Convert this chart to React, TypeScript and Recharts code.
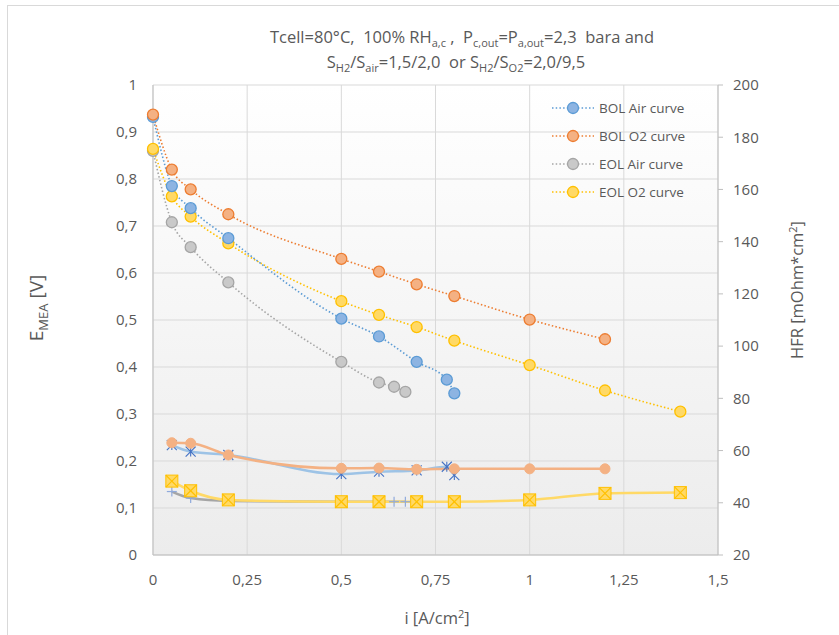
import React from "react";
import {
  ComposedChart,
  Line,
  XAxis,
  YAxis,
  CartesianGrid,
} from "recharts";

// Current density [A/cm2] for each test
const bolAirI = [0, 0.05, 0.1, 0.2, 0.5, 0.6, 0.7, 0.78, 0.8];
const bolO2I = [0, 0.05, 0.1, 0.2, 0.5, 0.6, 0.7, 0.8, 1.0, 1.2];
const eolAirI = [0, 0.05, 0.1, 0.2, 0.5, 0.6, 0.64, 0.67];
const eolO2I = [0, 0.05, 0.1, 0.2, 0.5, 0.6, 0.7, 0.8, 1.0, 1.2, 1.4];

// Cell voltage E_MEA [V]
const bolAirE = [0.932, 0.785, 0.738, 0.674, 0.503, 0.465, 0.411, 0.373, 0.344];
const bolO2E = [0.937, 0.82, 0.778, 0.725, 0.63, 0.603, 0.576, 0.551, 0.501, 0.459];
const eolAirE = [0.86, 0.708, 0.655, 0.58, 0.411, 0.367, 0.358, 0.347];
const eolO2E = [0.864, 0.763, 0.72, 0.663, 0.54, 0.511, 0.485, 0.456, 0.404, 0.35, 0.305];

// High frequency resistance [mOhm*cm2]
const bolAirHfrI = [0.05, 0.1, 0.2, 0.5, 0.6, 0.7, 0.78, 0.8];
const bolAirHfr = [62.1, 59.6, 58.3, 51.0, 51.9, 52.4, 53.8, 50.6];
const bolO2HfrI = [0.05, 0.1, 0.2, 0.5, 0.6, 0.7, 0.8, 1.0, 1.2];
const bolO2Hfr = [63.0, 62.8, 58.3, 53.2, 53.3, 52.8, 53.0, 53.0, 53.0];
const eolAirHfrI = [0.05, 0.1, 0.2, 0.5, 0.6, 0.64, 0.67];
const eolAirHfr = [44.3, 41.8, 40.7, 40.4, 40.4, 40.4, 40.4];
const eolO2HfrI = [0.05, 0.1, 0.2, 0.5, 0.6, 0.7, 0.8, 1.0, 1.2, 1.4];
const eolO2Hfr = [48.3, 44.6, 41.1, 40.4, 40.4, 40.4, 40.4, 41.1, 43.6, 43.9];

// Axis ticks
const xTicks = [0, 0.25, 0.5, 0.75, 1, 1.25, 1.5];
const eTicks = [0, 0.1, 0.2, 0.3, 0.4, 0.5, 0.6, 0.7, 0.8, 0.9, 1];
const hfrTicks = [20, 40, 60, 80, 100, 120, 140, 160, 180, 200];

const legendNames = ["BOL Air curve", "BOL O2 curve", "EOL Air curve", "EOL O2 curve"];

// Title lines: [text, subscript?]
const titleLine1: [string, boolean][] = [
  ["Tcell=80°C,  100% RH", false],
  ["a,c", true],
  [" ,  P", false],
  ["c,out", true],
  ["=P", false],
  ["a,out", true],
  ["=2,3  bara and", false],
];
const titleLine2: [string, boolean][] = [
  ["S", false],
  ["H2", true],
  ["/S", false],
  ["air", true],
  ["=1,5/2,0  or S", false],
  ["H2", true],
  ["/S", false],
  ["O2", true],
  ["=2,0/9,5", false],
];

const zip = (xs: number[], ys: number[]) => xs.map((x, k) => ({ i: x, v: ys[k] }));

const FONT = "'Open Sans', 'Noto Sans', sans-serif";
const TEXT = "#595959";
const GRID = "#d9d9d9";

const comma = (v: number) => String(Number(v.toFixed(2))).replace(".", ",");

const palette = [
  { stroke: "#5b9bd5", fill: "#8db4e2" },
  { stroke: "#ed7d31", fill: "#f4b183" },
  { stroke: "#a5a5a5", fill: "#c9c9c9" },
  { stroke: "#ffc000", fill: "#ffd966" },
];

const circleDot = (c: { stroke: string; fill: string }, r = 5.5) => (p: any) => (
  <circle key={p.index} cx={p.cx} cy={p.cy} r={r} fill={c.fill} stroke={c.stroke} strokeWidth={1.3} />
);

const orangeHfrDot = (p: any) => (
  <circle key={p.index} cx={p.cx} cy={p.cy} r={5} fill="#f4b183" stroke="#f4b183" />
);

const asteriskDot = (p: any) => {
  const s = 5;
  return (
    <g key={p.index} stroke="#4472c4" strokeWidth={1.1}>
      <line x1={p.cx} y1={p.cy - s} x2={p.cx} y2={p.cy + s} />
      <line x1={p.cx - s} y1={p.cy - s} x2={p.cx + s} y2={p.cy + s} />
      <line x1={p.cx - s} y1={p.cy + s} x2={p.cx + s} y2={p.cy - s} />
    </g>
  );
};

const plusDot = (p: any) => {
  const s = 5;
  return (
    <g key={p.index} stroke="#8faadc" strokeWidth={1.2}>
      <line x1={p.cx} y1={p.cy - s} x2={p.cx} y2={p.cy + s} />
      <line x1={p.cx - s} y1={p.cy} x2={p.cx + s} y2={p.cy} />
    </g>
  );
};

const squareXDot = (p: any) => {
  const s = 6;
  return (
    <g key={p.index}>
      <rect x={p.cx - s} y={p.cy - s} width={2 * s} height={2 * s} fill="#ffd966" stroke="#ffc000" strokeWidth={1} />
      <line x1={p.cx - s} y1={p.cy - s} x2={p.cx + s} y2={p.cy + s} stroke="#ffc000" strokeWidth={1.2} />
      <line x1={p.cx - s} y1={p.cy + s} x2={p.cx + s} y2={p.cy - s} stroke="#ffc000" strokeWidth={1.2} />
    </g>
  );
};

// Renders a run of normal / subscript pieces as tspans
const richSpans = (parts: [string, boolean][], shift: number, subSize: number) => {
  let prevSub = false;
  return parts.map(([t, sub], k) => {
    let dy = 0;
    if (sub && !prevSub) dy = shift;
    if (!sub && prevSub) dy = -shift;
    prevSub = sub;
    return (
      <tspan key={k} dy={dy} fontSize={sub ? subSize : undefined}>
        {t}
      </tspan>
    );
  });
};

const titleLabel = () => (
  <g fontFamily={FONT} fill={TEXT} fontSize={16.5}>
    <text x={462} y={43} textAnchor="middle" xmlSpace="preserve" style={{ whiteSpace: "pre" }}>
      {richSpans(titleLine1, 4, 11)}
    </text>
    <text x={456} y={68} textAnchor="middle" xmlSpace="preserve" style={{ whiteSpace: "pre" }}>
      {richSpans(titleLine2, 4, 11)}
    </text>
  </g>
);

const leftLabel = () => (
  <g>
    {titleLabel()}
    <text
      transform="translate(43, 308) rotate(-90)"
      textAnchor="middle"
      fontFamily={FONT}
      fontSize={19}
      fill={TEXT}
      xmlSpace="preserve"
      style={{ whiteSpace: "pre" }}
    >
      {richSpans([["E", false], ["MEA", true], [" [V]", false]], 5, 13)}
    </text>
  </g>
);

const rightLabel = () => (
  <text
    transform="translate(803, 290) rotate(-90)"
    textAnchor="middle"
    fontFamily={FONT}
    fontSize={16.5}
    fill={TEXT}
  >
    {richSpans([["HFR [mOhm*cm", false], ["2", true], ["]", false]], -6, 11)}
  </text>
);

const bottomLabel = () => (
  <text x={437} y={624} textAnchor="middle" fontFamily={FONT} fontSize={16.5} fill={TEXT}>
    {richSpans([["i [A/cm", false], ["2", true], ["]", false]], -6, 11)}
  </text>
);

const LegendBox = () => (
  <div style={{ position: "absolute", left: 548, top: 94, fontFamily: FONT, fontSize: 13.5, color: TEXT }}>
    {legendNames.map((name, k) => (
      <div key={name} style={{ display: "flex", alignItems: "center", height: 28 }}>
        <svg width={50} height={16} style={{ display: "block" }}>
          <line x1={4} y1={8} x2={46} y2={8} stroke={palette[k].stroke} strokeWidth={1.6} strokeDasharray="1.5 2.2" />
          <circle cx={25} cy={8} r={5.5} fill={palette[k].fill} stroke={palette[k].stroke} strokeWidth={1.3} />
        </svg>
        <span style={{ marginLeft: 1, whiteSpace: "nowrap" }}>{name}</span>
      </div>
    ))}
  </div>
);

export default function App() {
  const polar = [
    zip(bolAirI, bolAirE),
    zip(bolO2I, bolO2E),
    zip(eolAirI, eolAirE),
    zip(eolO2I, eolO2E),
  ];
  return (
    <div style={{ position: "absolute", left: 0, top: 0, width: 839, height: 635, background: "#fff", overflow: "hidden" }}>
      <div style={{ position: "absolute", left: 7, top: 5, width: 900, height: 700, border: "1px solid #d9d9d9" }} />
      <ComposedChart
        width={839}
        height={635}
        margin={{ top: 85, right: 61, bottom: 40, left: 103 }}
        style={{ position: "absolute", left: 0, top: 0 }}
      >
        <defs>
          <linearGradient id="plotBg" x1="0" y1="0" x2="0" y2="1">
            <stop offset="0%" stopColor="#ffffff" />
            <stop offset="100%" stopColor="#ececec" />
          </linearGradient>
        </defs>
        <CartesianGrid
          yAxisId="left"
          stroke={GRID}
          fill="url(#plotBg)"
          fillOpacity={1}
          verticalValues={xTicks}
          horizontalValues={eTicks}
        />
        <XAxis
          dataKey="i"
          type="number"
          domain={[0, 1.5]}
          ticks={xTicks}
          allowDuplicatedCategory={false}
          tickFormatter={comma}
          tickLine={false}
          axisLine={{ stroke: "#bfbfbf" }}
          tick={{ fill: TEXT, fontSize: 15, fontFamily: FONT }}
          tickMargin={13}
          height={40}
          label={{ content: bottomLabel }}
        />
        <YAxis
          yAxisId="left"
          type="number"
          domain={[0, 1]}
          ticks={eTicks}
          tickFormatter={comma}
          tickLine={false}
          axisLine={{ stroke: "#bfbfbf" }}
          tick={{ fill: TEXT, fontSize: 15, fontFamily: FONT }}
          tickMargin={10}
          width={50}
          label={{ content: leftLabel }}
        />
        <YAxis
          yAxisId="right"
          orientation="right"
          type="number"
          domain={[20, 200]}
          ticks={hfrTicks}
          tickLine={{ stroke: "#bfbfbf" }}
          tickSize={5}
          axisLine={{ stroke: "#bfbfbf" }}
          tick={{ fill: TEXT, fontSize: 15, fontFamily: FONT }}
          tickMargin={10}
          width={60}
          label={{ content: rightLabel }}
        />

        {/* HFR curves (right axis) */}
        <Line
          yAxisId="right"
          data={zip(eolAirHfrI, eolAirHfr)}
          dataKey="v"
          type="monotone"
          stroke="#a5a5a5"
          strokeWidth={2.5}
          dot={plusDot}
          isAnimationActive={false}
        />
        <Line
          yAxisId="right"
          data={zip(eolO2HfrI, eolO2Hfr)}
          dataKey="v"
          type="monotone"
          stroke="#ffd966"
          strokeWidth={2.5}
          dot={squareXDot}
          isAnimationActive={false}
        />
        <Line
          yAxisId="right"
          data={zip(bolAirHfrI, bolAirHfr)}
          dataKey="v"
          type="monotone"
          stroke="#9dc3e6"
          strokeWidth={2.5}
          dot={asteriskDot}
          isAnimationActive={false}
        />
        <Line
          yAxisId="right"
          data={zip(bolO2HfrI, bolO2Hfr)}
          dataKey="v"
          type="monotone"
          stroke="#f4b183"
          strokeWidth={2.5}
          dot={orangeHfrDot}
          isAnimationActive={false}
        />

        {/* Polarization curves (left axis) */}
        {[2, 3, 0, 1].map((k) => (
          <Line
            key={legendNames[k]}
            yAxisId="left"
            data={polar[k]}
            dataKey="v"
            name={legendNames[k]}
            type="monotone"
            stroke={palette[k].stroke}
            strokeWidth={1.6}
            strokeDasharray="1.5 2.2"
            dot={circleDot(palette[k])}
            isAnimationActive={false}
          />
        ))}
      </ComposedChart>
      <LegendBox />
    </div>
  );
}
